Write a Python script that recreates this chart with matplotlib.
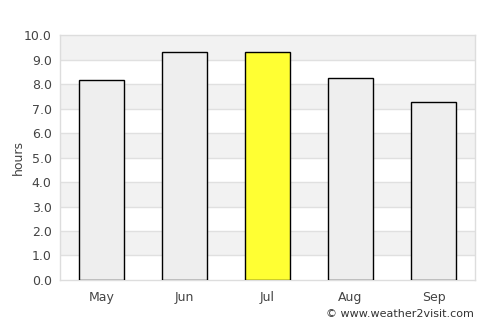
import matplotlib
matplotlib.use("Agg")
import matplotlib.pyplot as plt

months = ["May", "Jun", "Jul", "Aug", "Sep"]
hours = [8.15, 9.33, 9.33, 8.23, 7.27]
colors = ["#eeeeee", "#eeeeee", "#ffff33", "#eeeeee", "#eeeeee"]
yticks = [0, 1, 2, 3, 4, 5, 6, 7, 8, 9, 10]

fig = plt.figure(figsize=(5, 3.25), dpi=100)
ax = fig.add_axes([0.12, 0.1385, 0.83, 0.7535])

for i in range(1, 10, 2):
    ax.axhspan(i, i + 1, color="#f2f2f2", zorder=0, lw=0)
for y in yticks[1:-1]:
    ax.axhline(y, color="#e0e0e0", lw=1, zorder=1)

x = range(len(months))
ax.bar(x, hours, width=0.54, color=colors, edgecolor="black", linewidth=1, zorder=3)

ax.set_xlim(-0.5, 4.5)
ax.set_ylim(0, 10)
ax.set_yticks(yticks)
ax.set_yticklabels([f"{v:.1f}" for v in yticks])
ax.set_xticks(list(x))
ax.set_xticklabels(months)
ax.tick_params(axis="both", length=0, labelsize=9, colors="#444444")
ax.tick_params(axis="y", pad=6)
ax.tick_params(axis="x", pad=8)
for s in ax.spines.values():
    s.set_color("#dddddd")
    s.set_linewidth(1)
ax.set_ylabel("hours", fontsize=9, color="#444444", labelpad=-1)

fig.text(0.948, 0.035, "© www.weather2visit.com", ha="right", va="center",
         fontsize=8, color="#333333")

fig.savefig("out.png", dpi=100)
